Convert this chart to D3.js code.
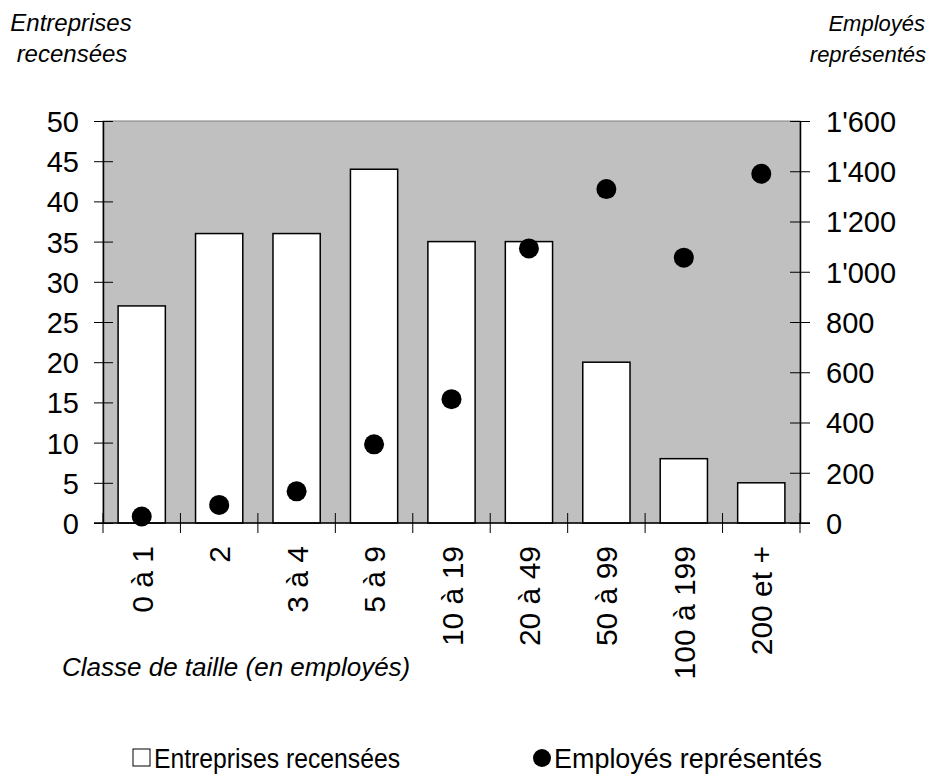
<!DOCTYPE html>
<html>
<head>
<meta charset="utf-8">
<script src="https://cdn.jsdelivr.net/npm/d3@7"></script>
<style>
  body { margin: 0; background: #fff; }
  svg { font-family: "Liberation Sans", Arial, sans-serif; }
</style>
</head>
<body>
<div id="chart"></div>
<script>
// data
var categories = ['0 à 1', '2', '3 à 4', '5 à 9', '10 à 19', '20 à 49', '50 à 99', '100 à 199', '200 et +'];
var entreprises = [27, 36, 36, 44, 35, 35, 20, 8, 5];
var employes = [26, 72, 126, 313, 493, 1093, 1329, 1056, 1390];
var leftTicks = [0, 5, 10, 15, 20, 25, 30, 35, 40, 45, 50];
var rightTicks = [0, 200, 400, 600, 800, 1000, 1200, 1400, 1600];

var width = 932, height = 781;
var plot = {left: 103, right: 800, top: 121, bottom: 523};

var svg = d3.select('#chart').append('svg')
    .attr('width', width)
    .attr('height', height);

var x = d3.scaleBand().domain(categories).range([plot.left, plot.right]).paddingInner(0.39).paddingOuter(0.195);
var xTicks = d3.scaleBand().domain(categories).range([plot.left, plot.right]);
var yL = d3.scaleLinear().domain([0, 50]).range([plot.bottom, plot.top]);
var yR = d3.scaleLinear().domain([0, 1600]).range([plot.bottom, plot.top]);

// plot background
svg.append('rect')
    .attr('x', plot.left).attr('y', plot.top)
    .attr('width', plot.right - plot.left).attr('height', plot.bottom - plot.top)
    .attr('fill', '#c0c0c0')
    .attr('stroke', '#808080')
    .attr('stroke-width', 1);

// bars
svg.selectAll('.bar')
    .data(entreprises)
  .enter().append('rect')
    .attr('class', 'bar')
    .attr('x', function(d, i) { return x(categories[i]); })
    .attr('width', x.bandwidth())
    .attr('y', function(d) { return yL(d); })
    .attr('height', function(d) { return plot.bottom - yL(d); })
    .attr('fill', '#fff')
    .attr('stroke', '#000')
    .attr('stroke-width', 1.5);

// dots
svg.selectAll('.dot')
    .data(employes)
  .enter().append('circle')
    .attr('class', 'dot')
    .attr('cx', function(d, i) { return x(categories[i]) + x.bandwidth() / 2; })
    .attr('cy', function(d) { return yR(d); })
    .attr('r', 10)
    .attr('fill', '#000');

// left axis
var gL = svg.append('g')
    .attr('transform', 'translate(' + plot.left + ',0)')
    .call(d3.axisLeft(yL).tickValues(leftTicks).tickSizeInner(9).tickSizeOuter(0).tickPadding(15));
gL.selectAll('.tick line').attr('x2', 10).attr('x1', -9);
gL.select('.domain').attr('stroke', '#000').attr('stroke-width', 1.5);
gL.selectAll('text').style('font-size', '29px').attr('dy', '0.36em');

// right axis
var fmt = function(d) { return d3.format(',')(d).replace(/,/g, "'"); };
var gR = svg.append('g')
    .attr('transform', 'translate(' + plot.right + ',0)')
    .call(d3.axisRight(yR).tickValues(rightTicks).tickFormat(fmt).tickSizeInner(10).tickSizeOuter(0).tickPadding(16));
gR.selectAll('.tick line').attr('x1', -10).attr('x2', 10);
gR.select('.domain').attr('stroke', '#000').attr('stroke-width', 1.5);
gR.selectAll('text').style('font-size', '29px').attr('dy', '0.36em');

// bottom axis
var gB = svg.append('g')
    .attr('transform', 'translate(0,' + plot.bottom + ')');
gB.append('line')
    .attr('x1', plot.left - 9).attr('x2', plot.right + 10)
    .attr('stroke', '#000').attr('stroke-width', 1.5);
gB.selectAll('.xtick')
    .data(categories.concat(['end']))
  .enter().append('line')
    .attr('x1', function(d, i) { return plot.left + i * xTicks.step(); })
    .attr('x2', function(d, i) { return plot.left + i * xTicks.step(); })
    .attr('y1', -10).attr('y2', 10)
    .attr('stroke', '#000').attr('stroke-width', 1);
gB.selectAll('.xlabel')
    .data(categories)
  .enter().append('text')
    .attr('transform', function(d) {
      return 'translate(' + (x(d) + x.bandwidth() / 2 + 11) + ',23) rotate(-90)';
    })
    .attr('text-anchor', 'end')
    .style('font-size', '30px')
    .text(function(d) { return d; });

// axis titles
svg.append('text').attr('x', 71).attr('y', 31).attr('text-anchor', 'middle')
    .style('font-size', '24px').style('font-style', 'italic').text('Entreprises');
svg.append('text').attr('x', 72).attr('y', 62).attr('text-anchor', 'middle')
    .style('font-size', '24px').style('font-style', 'italic').text('recensées');
svg.append('text').attr('x', 925).attr('y', 31).attr('text-anchor', 'end')
    .style('font-size', '22px').style('font-style', 'italic').text('Employés');
svg.append('text').attr('x', 926).attr('y', 62).attr('text-anchor', 'end')
    .style('font-size', '22px').style('font-style', 'italic').text('représentés');
svg.append('text').attr('x', 62).attr('y', 676)
    .style('font-size', '26px').style('font-style', 'italic').text('Classe de taille (en employés)');

// legend
var legend = svg.append('g');
legend.append('rect').attr('x', 133).attr('y', 749).attr('width', 17).attr('height', 17)
    .attr('fill', '#fff').attr('stroke', '#000').attr('stroke-width', 1);
legend.append('text').attr('x', 154).attr('y', 768).style('font-size', '27px')
    .attr('textLength', 246).attr('lengthAdjust', 'spacingAndGlyphs').text('Entreprises recensées');
legend.append('circle').attr('cx', 542).attr('cy', 758).attr('r', 9).attr('fill', '#000');
legend.append('text').attr('x', 554).attr('y', 768).style('font-size', '27px')
    .attr('textLength', 268).attr('lengthAdjust', 'spacingAndGlyphs').text('Employés représentés');
</script>
</body>
</html>
